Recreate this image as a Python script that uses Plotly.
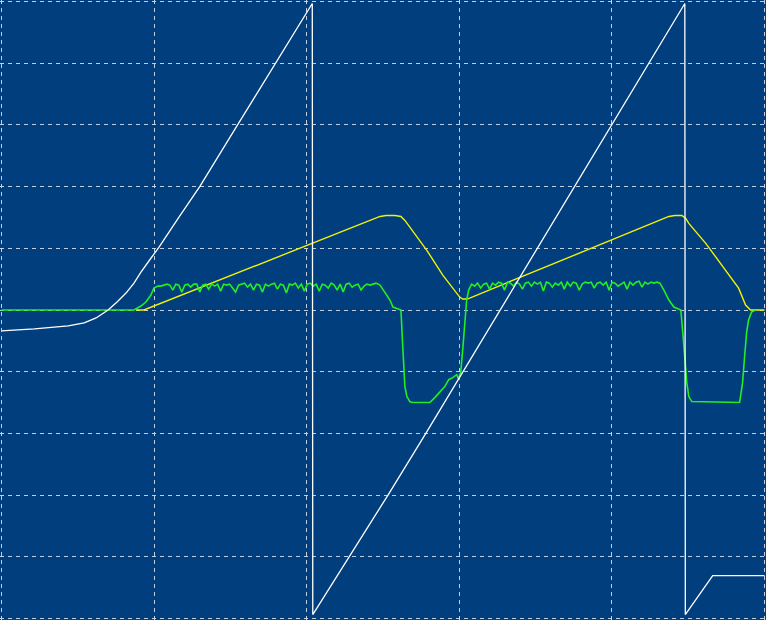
import plotly.graph_objects as go

# ---- data (x: sample index, y: ADC counts, 62 counts per division) ----
white_x = [0, 33, 67, 83, 95, 107, 116, 125, 133, 140, 150, 158, 178, 199, 237, 275, 312,
           312.5, 349, 388, 426, 686, 686.5, 714, 766]
white_y = [-21, -19, -16, -13, -8, 0, 8, 17, 27, 38, 52, 63, 93, 124, 186, 248, 308,
           -306, -248, -186, -124, 308, -306, -267, -267]

yellow_x = [135, 143, 380, 386, 395, 401, 405, 410, 427, 443, 460, 463, 467, 470,
            670, 676, 683, 687, 690, 707, 723, 740, 747, 752, 766]
yellow_y = [0, 0, 94, 95, 95, 94, 90, 83, 60, 35, 13, 11, 11, 12,
            94, 95, 95, 92, 87, 67, 45, 22, 5, 0, 0]

green_rise1_x = [0, 133, 140, 145, 150, 153, 157]
green_rise1_y = [0, 0, 4, 8, 15, 22, 24]

green_plateau1 = [24, 25, 26, 25, 20, 26, 25, 18, 25, 26,
                  23, 26, 26, 18, 25, 26, 21, 26, 24, 26,
                  19, 26, 25, 26, 22, 18, 25, 26, 27, 23,
                  26, 20, 26, 25, 18, 26, 24, 26, 27, 21,
                  26, 25, 17, 26, 25, 27, 22, 26, 19, 26,
                  27, 24, 26, 19, 26, 25, 22, 27, 25, 20,
                  26, 18, 26, 27, 23, 25, 26, 20, 24, 26,
                  25, 26, 27]
green_plateau1_start, green_step = 160, 3

green_dip1_x = [380, 385, 390, 393, 400, 401, 403, 405, 407, 410, 412, 430, 435, 440,
                445, 449, 453, 457, 459, 460, 461, 463, 465, 467, 469]
green_dip1_y = [25, 18, 10, 3, 1, 0, -40, -77, -87, -92, -93, -93, -88, -83,
                -77, -70, -68, -65, -70, -65, -63, -40, -10, 10, 20]

green_plateau2 = [26, 24, 27, 22, 26, 27, 21, 27, 25, 28,
                  27, 20, 28, 27, 24, 28, 26, 21, 27, 28,
                  24, 28, 26, 28, 19, 28, 27, 23, 27, 25,
                  28, 21, 28, 24, 28, 27, 20, 26, 28, 27,
                  28, 22, 27, 28, 25, 28, 20, 28, 27, 24,
                  26, 28, 21, 28, 25, 28, 29, 23, 28, 26,
                  28, 27, 28]
green_plateau2_start = 472

green_dip2_x = [661, 665, 670, 675, 680, 682, 684, 686, 688, 690, 693, 741, 744, 746,
                748, 750, 753, 757]
green_dip2_y = [27, 20, 10, 3, 1, 0, -23, -47, -73, -87, -92, -93, -73, -47,
                -23, -10, -2, 0]

x_div = [0, 153.2, 306.4, 459.6, 612.8, 766]
y_div = [-310, -248, -186, -124, -62, 0, 62, 124, 186, 248, 310]

# ---- assemble green trace ----
green_x = list(green_rise1_x)
green_y = list(green_rise1_y)
green_x += [green_plateau1_start + i * green_step for i in range(len(green_plateau1))]
green_y += green_plateau1
green_x += green_dip1_x
green_y += green_dip1_y
green_x += [green_plateau2_start + i * green_step for i in range(len(green_plateau2))]
green_y += green_plateau2
green_x += green_dip2_x
green_y += green_dip2_y

bg = "#003e7e"

fig = go.Figure()
fig.add_trace(go.Scatter(x=yellow_x, y=yellow_y, mode="lines",
                         line=dict(color="#f2f200", width=1.4), hoverinfo="skip"))
fig.add_trace(go.Scatter(x=green_x, y=green_y, mode="lines",
                         line=dict(color="#22ee22", width=1.6), hoverinfo="skip"))
fig.add_trace(go.Scatter(x=white_x, y=white_y, mode="lines",
                         line=dict(color="#ffffff", width=1.3), hoverinfo="skip"))

grid = "rgba(215,222,234,0.9)"
fig.update_layout(
    width=766, height=620,
    margin=dict(l=0, r=0, t=0, b=0, pad=0),
    paper_bgcolor=bg, plot_bgcolor=bg,
    showlegend=False,
    xaxis=dict(range=[-1.5, 767.5], tickmode="array", tickvals=x_div, showticklabels=False,
               showgrid=True, gridcolor=grid, griddash="4px,4px", gridwidth=1,
               zeroline=False, showline=False, ticks="", fixedrange=True),
    yaxis=dict(range=[-311.5, 311.5], tickmode="array", tickvals=y_div, showticklabels=False,
               showgrid=True, gridcolor=grid, griddash="4px,4px", gridwidth=1,
               zeroline=False, showline=False, ticks="", fixedrange=True),
)

fig.write_html("out.html", config={"displayModeBar": False},
               post_script="document.body.style.margin='0';document.body.style.overflow='hidden';")
